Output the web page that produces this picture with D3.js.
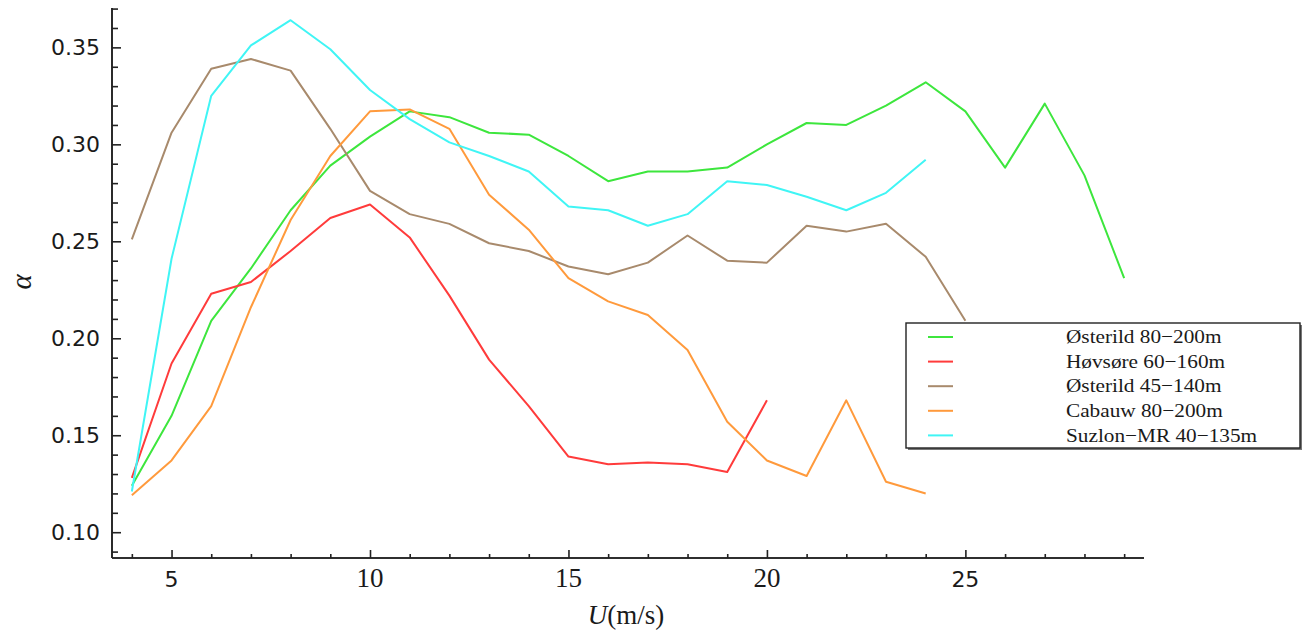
<!DOCTYPE html>
<html>
<head>
<meta charset="utf-8">
<script src="https://cdn.jsdelivr.net/npm/d3@7"></script>
<style>
  body { margin: 0; background: #fff; }
  .line { fill: none; stroke-width: 2px; stroke-linejoin: round; }
</style>
</head>
<body>
<script>
/********************************************************/
// wind speed bins (m/s)
const speedsA = [4, 5, 6, 7, 8, 9, 10, 11, 12, 13, 14, 15, 16, 17, 18, 19, 20, 21, 22, 23, 24, 25, 26, 27, 28, 29];
const speedsB = [4, 5, 6, 7, 8, 9, 10, 11, 12, 13, 14, 15, 16, 17, 18, 19, 20];
const speedsC = [4, 5, 6, 7, 8, 9, 10, 11, 12, 13, 14, 15, 16, 17, 18, 19, 20, 21, 22, 23, 24, 25];
const speedsD = [4, 5, 6, 7, 8, 9, 10, 11, 12, 13, 14, 15, 16, 17, 18, 19, 20, 21, 22, 23, 24];

// shear exponent alpha per site
const osterild80 = [0.124, 0.160, 0.209, 0.236, 0.266, 0.289, 0.304, 0.317, 0.314, 0.306, 0.305, 0.294, 0.281, 0.286, 0.286, 0.288, 0.300, 0.311, 0.310, 0.320, 0.332, 0.317, 0.288, 0.321, 0.284, 0.231];
const hovsore60 = [0.128, 0.187, 0.223, 0.229, 0.245, 0.262, 0.269, 0.252, 0.222, 0.189, 0.165, 0.139, 0.135, 0.136, 0.135, 0.131, 0.168];
const osterild45 = [0.251, 0.306, 0.339, 0.344, 0.338, 0.308, 0.276, 0.264, 0.259, 0.249, 0.245, 0.237, 0.233, 0.239, 0.253, 0.240, 0.239, 0.258, 0.255, 0.259, 0.242, 0.209];
const cabauw80 = [0.119, 0.137, 0.165, 0.216, 0.261, 0.294, 0.317, 0.318, 0.308, 0.274, 0.256, 0.231, 0.219, 0.212, 0.194, 0.157, 0.137, 0.129, 0.168, 0.126, 0.120];
const suzlon40 = [0.121, 0.241, 0.325, 0.351, 0.364, 0.349, 0.328, 0.313, 0.301, 0.294, 0.286, 0.268, 0.266, 0.258, 0.264, 0.281, 0.279, 0.273, 0.266, 0.275, 0.292];

const seriesNames = ["Østerild 80−200m", "Høvsøre 60−160m", "Østerild 45−140m", "Cabauw 80−200m", "Suzlon−MR 40−135m"];
const seriesColors = ["#3de63d", "#ff3b3b", "#a88a6c", "#ff9a3c", "#40f5f5"];

const xMajorTicks = [5, 10, 15, 20, 25];
const yMajorTicks = [0.10, 0.15, 0.20, 0.25, 0.30, 0.35];

/********************************************************/
const svgWidth = 1303;
const svgHeight = 632;

const chartMargin = { top: 8, right: 159, bottom: 74, left: 112 };
const chartWidth = svgWidth - chartMargin.left - chartMargin.right;
const chartHeight = svgHeight - chartMargin.top - chartMargin.bottom;

const svg = d3.select("body")
  .append("svg")
  .attr("width", svgWidth)
  .attr("height", svgHeight);

const chartGroup = svg.append("g")
  .attr("transform", `translate(${chartMargin.left}, ${chartMargin.top})`);

/************** scales ************/
const xScale = d3.scaleLinear().domain([3.5, 29.5]).range([0, chartWidth]);
const yScale = d3.scaleLinear().domain([0.0867, 0.3703]).range([chartHeight, 0]);

/************** axes (ticks point inward) ************/
const xMinor = d3.range(4, 30, 1).filter((v) => v % 5 !== 0);
const yMinor = d3.range(9, 38, 1).map((v) => v / 100).filter((v) => Math.round(v * 100) % 5 !== 0);

const xAxisG = chartGroup.append("g").attr("transform", `translate(0, ${chartHeight})`);
xAxisG.call(d3.axisTop(xScale).tickValues(xMinor).tickSize(4).tickFormat(""));
xAxisG.append("g").call(d3.axisTop(xScale).tickValues(xMajorTicks).tickSize(8).tickFormat(""));
xAxisG.selectAll(".domain").attr("d", `M0,0H${chartWidth}`);
xAxisG.selectAll("line, path").attr("stroke", "#222").attr("stroke-width", 1.6);

xAxisG.selectAll(".lbl")
  .data(xMajorTicks)
  .enter()
  .append("text")
  .attr("x", (d) => xScale(d))
  .attr("y", 29)
  .attr("text-anchor", "middle")
  .attr("font-family", (d) => (d === 5 || d === 25) ? "DejaVu Sans" : "Liberation Serif")
  .attr("font-size", (d) => (d === 5 || d === 25) ? "22px" : "27px")
  .attr("fill", "#1a1a1a")
  .text((d) => d);

const yAxisG = chartGroup.append("g");
yAxisG.call(d3.axisRight(yScale).tickValues(yMinor).tickSize(6).tickFormat(""));
yAxisG.append("g").call(d3.axisRight(yScale).tickValues(yMajorTicks).tickSize(9).tickFormat(""));
yAxisG.selectAll(".domain").attr("d", `M0,0V${chartHeight}`);
yAxisG.selectAll("line, path").attr("stroke", "#222").attr("stroke-width", 1.6);

yAxisG.selectAll(".lbl")
  .data(yMajorTicks)
  .enter()
  .append("text")
  .attr("x", -12)
  .attr("y", (d) => yScale(d))
  .attr("dy", "0.36em")
  .attr("text-anchor", "end")
  .attr("font-family", "DejaVu Sans")
  .attr("font-size", "22px")
  .attr("fill", "#1a1a1a")
  .text((d) => d3.format(".2f")(d));

/************** axis titles ************/
const xTitle = svg.append("text")
  .attr("x", 626)
  .attr("y", 624)
  .attr("text-anchor", "middle")
  .attr("font-family", "Liberation Serif")
  .attr("font-size", "27px")
  .attr("fill", "#1a1a1a");
xTitle.append("tspan").attr("font-style", "italic").text("U");
xTitle.append("tspan").text("(m/s)");

svg.append("text")
  .attr("transform", "translate(22, 282) rotate(-90)")
  .attr("text-anchor", "middle")
  .attr("dy", "0.3em")
  .attr("font-family", "Liberation Serif")
  .attr("font-style", "italic")
  .attr("font-size", "29px")
  .attr("fill", "#1a1a1a")
  .text("α");

/************** lines ************/
const seriesData = [
  [speedsA, osterild80],
  [speedsB, hovsore60],
  [speedsC, osterild45],
  [speedsD, cabauw80],
  [speedsD, suzlon40],
];

const line = d3.line()
  .x((d) => xScale(d[0]))
  .y((d) => yScale(d[1]));

seriesData.forEach((s, i) => {
  const pts = s[0].map((x, j) => [x, s[1][j]]);
  chartGroup.append("path")
    .classed("line", true)
    .attr("stroke", seriesColors[i])
    .attr("d", line(pts));
});

/************** legend ************/
const legend = svg.append("g").attr("transform", "translate(906, 323)");
legend.append("rect")
  .attr("x", 2).attr("y", 2)
  .attr("width", 394).attr("height", 125)
  .attr("fill", "#777");
legend.append("rect")
  .attr("width", 394).attr("height", 125)
  .attr("fill", "#fff")
  .attr("stroke", "#222")
  .attr("stroke-width", 1.4);

seriesNames.forEach((name, i) => {
  const yy = 14 + i * 24.6;
  legend.append("line")
    .attr("x1", 22).attr("x2", 47)
    .attr("y1", yy).attr("y2", yy)
    .attr("stroke", seriesColors[i])
    .attr("stroke-width", 2);
  legend.append("text")
    .attr("transform", `translate(160, ${yy}) scale(1.12, 1)`)
    .attr("dy", "0.33em")
    .attr("font-family", "Liberation Serif")
    .attr("font-size", "19px")
    .attr("fill", "#1a1a1a")
    .text(name);
});
</script>
</body>
</html>
